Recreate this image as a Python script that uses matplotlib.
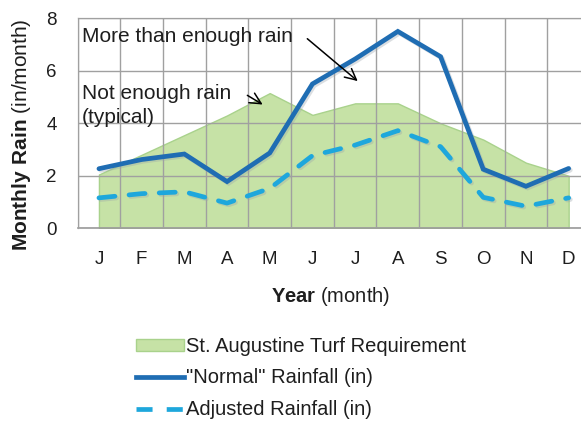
import matplotlib
matplotlib.use("Agg")
import matplotlib.pyplot as plt
from matplotlib.patches import Patch
from matplotlib.lines import Line2D
import matplotlib.patheffects as pe

plt.rcParams['font.family'] = ['Liberation Sans', 'DejaVu Sans']
plt.rcParams['mathtext.fontset'] = 'custom'
plt.rcParams['mathtext.rm'] = 'Liberation Sans'
plt.rcParams['mathtext.bf'] = 'Liberation Sans:bold'

months = ["J", "F", "M", "A", "M", "J", "J", "A", "S", "O", "N", "D"]
turf_requirement = [2.05, 2.8, 3.55, 4.3, 5.15, 4.32, 4.76, 4.76, 4.0, 3.38, 2.5, 2.0]
normal_rainfall = [2.27, 2.62, 2.83, 1.78, 2.87, 5.5, 6.45, 7.5, 6.54, 2.25, 1.6, 2.28]
adjusted_rainfall = [1.16, 1.32, 1.39, 0.96, 1.52, 2.77, 3.17, 3.72, 3.11, 1.18, 0.84, 1.16]

green_fill = "#c6e2a6"
green_edge = "#a9d28c"
dark_blue = "#1f6db3"
light_blue = "#1ea7dc"
grid_gray = "#a0a0a0"
text_color = "#1e1e1e"

fig = plt.figure(figsize=(5.81, 4.22), dpi=100)
ax = fig.add_axes([77.6 / 581, 193.7 / 422, 512.4 / 581, 210 / 422])

x = list(range(len(months)))
ax.fill_between(x, 0, turf_requirement, facecolor=green_fill, edgecolor=green_edge,
                linewidth=1.0, zorder=2)

shadow = [pe.SimpleLineShadow(offset=(1.2, -1.2), shadow_color="#9aa3aa", alpha=0.35), pe.Normal()]
ax.plot(x, normal_rainfall, color=dark_blue, linewidth=3.4, solid_joinstyle="miter",
        solid_capstyle="round", zorder=4, path_effects=shadow)
ax.plot(x, adjusted_rainfall, color=light_blue, linewidth=3.4, dashes=(3.4, 3.0),
        dash_capstyle="round", zorder=4, path_effects=shadow)

ax.set_xlim(-0.5, 11.5)
ax.set_ylim(0, 8)
ax.set_yticks([0, 2, 4, 6, 8])
ax.set_xticks(x)
ax.set_xticklabels(months)
ax.set_xticks([i - 0.5 for i in range(13)], minor=True)
ax.tick_params(axis="both", which="both", length=0, labelsize=13.5, colors=text_color)
ax.tick_params(axis="y", pad=15)
ax.tick_params(axis="x", pad=16)

ax.set_axisbelow(False)
ax.grid(axis="y", which="major", color=grid_gray, linewidth=1.0)
ax.grid(axis="x", which="minor", color=grid_gray, linewidth=1.0)
ax.grid(axis="x", which="major", visible=False)
for side in ["top", "right", "left"]:
    ax.spines[side].set_color("#c8c8c8")
    ax.spines[side].set_linewidth(1.0)
ax.spines["bottom"].set_color("#9a9a9a")
ax.spines["bottom"].set_linewidth(1.2)

# annotations inside the plot
ax.text(-0.4, 7.32, "More than enough rain", fontsize=15, ha="left", va="center",
        color=text_color, zorder=6)
ax.annotate("", xy=(6.11, 5.54), xytext=(4.83, 7.29),
            arrowprops=dict(arrowstyle="->", color="black", lw=1.1, mutation_scale=20), zorder=6)
ax.text(-0.4, 4.68, "Not enough rain\n(typical)", fontsize=15, ha="left", va="center",
        linespacing=1.35, color=text_color, zorder=6)
ax.annotate("", xy=(3.89, 4.66), xytext=(3.42, 5.12),
            arrowprops=dict(arrowstyle="->", color="black", lw=1.1, mutation_scale=20), zorder=6)

# axis titles with a bold leading word
fig.text(22 / 581, 1 - 135 / 422, r"$\mathbf{Monthly\ Rain}$ (in/month)", rotation=90,
         ha="center", va="center", fontsize=15, color=text_color)
fig.text(331 / 581, 1 - 296 / 422, r"$\mathbf{Year}$ (month)", ha="center", va="center",
         fontsize=14.5, color=text_color)

handles = [
    Patch(facecolor=green_fill, edgecolor=green_edge, label="St. Augustine Turf Requirement"),
    Line2D([0], [0], color=dark_blue, lw=3.4, label='"Normal" Rainfall (in)'),
    Line2D([0], [0], color=light_blue, lw=3.4, dashes=(3.4, 3.0), label="Adjusted Rainfall (in)"),
]
fig.legend(handles=handles, loc="upper left", bbox_to_anchor=(136 / 581, 1 - 337 / 422),
           frameon=False, fontsize=14.5, handlelength=2.4, handleheight=0.5,
           handletextpad=0.08, labelspacing=0.62, borderaxespad=0, borderpad=0,
           labelcolor=text_color)

fig.savefig("out.png", dpi=100)
